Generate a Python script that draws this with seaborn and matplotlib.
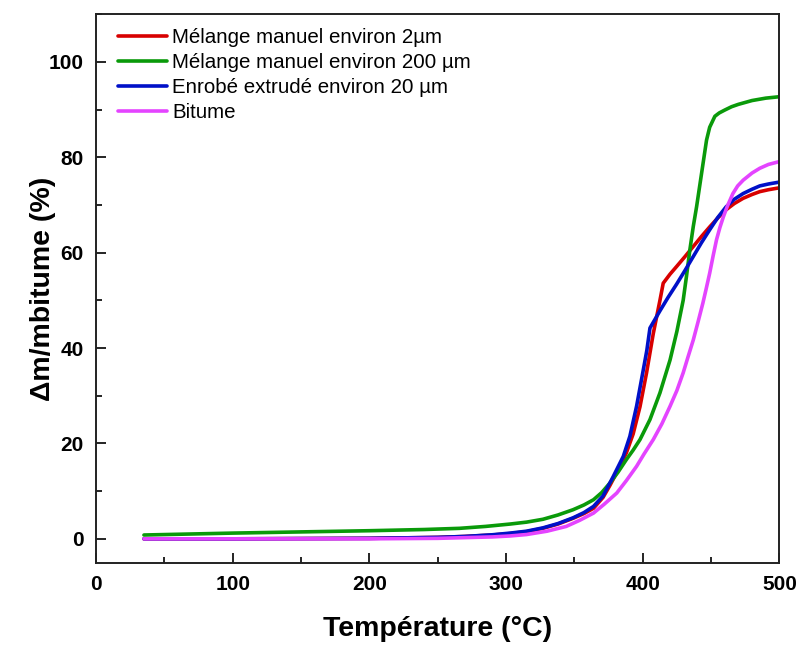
import numpy as np
import pandas as pd
import matplotlib
matplotlib.use("Agg")
import matplotlib.pyplot as plt
import seaborn as sns
from matplotlib.ticker import MultipleLocator

# ── Data ─────────────────────────────────────────────────────────────────────

labels = ["Mélange manuel environ 2µm", "Mélange manuel environ 200 µm",
          "Enrobé extrudé environ 20 µm", "Bitume"]

t_red = [35, 100, 200, 250, 270, 290, 303, 315, 327, 338, 349, 357, 364,
         371, 376, 381, 388, 393, 398, 402.8, 407.7, 412.6, 415, 420, 424.8,
         431, 437, 443, 449, 455, 461, 467, 473.5, 480, 485.7, 492, 500]
v_red = [0, 0, 0.1, 0.3, 0.5, 0.8, 1.1, 1.5, 2.2, 3.1, 4.3, 5.3, 6.4,
         8.7, 11.2, 13.9, 18, 22, 27.7, 34.8, 43, 50, 53.6, 55.5, 57.1,
         59.2, 61.3, 63.4, 65.4, 67.3, 69, 70.3, 71.4, 72.2, 72.8, 73.2, 73.6]

t_green = [35, 100, 150, 200, 240, 266, 285, 303, 315, 327, 338, 349, 357,
           364, 370, 376, 382, 388, 393, 398, 405.3, 412.6, 420, 425, 429.6,
           432, 434.5, 437, 439.4, 443, 446.7, 449, 452.8, 456, 460, 465,
           470, 480, 490, 500]
v_green = [0.8, 1.2, 1.45, 1.7, 1.95, 2.2, 2.6, 3.1, 3.5, 4.1, 5.0, 6.1, 7.1,
           8.2, 9.7, 11.7, 14, 16.6, 18.6, 20.8, 25, 30.6, 37.5, 43.5, 50,
           55, 60.6, 65.5, 69.6, 76.5, 83.6, 86.3, 88.6, 89.3, 89.9, 90.6,
           91.1, 91.9, 92.4, 92.7]

t_blue = [35, 100, 200, 250, 270, 290, 303, 315, 327, 338, 349, 357, 364,
          371, 378.5, 385.8, 390.6, 395.5, 400.4, 403, 405.3, 412.6, 418.5,
          424.8, 431, 437, 443, 449, 455, 461, 467, 473.5, 480, 485.7, 492,
          500]
v_blue = [0, 0, 0.1, 0.3, 0.5, 0.85, 1.2, 1.6, 2.3, 3.2, 4.4, 5.5, 6.8,
          9, 13.1, 17.3, 21.5, 27.8, 35.4, 39.5, 44.2, 47.8, 50.6,
          53.4, 56.3, 59.2, 62.1, 64.8, 67.4, 69.6, 71.2, 72.4, 73.3, 74,
          74.4, 74.8]

t_mag = [35, 100, 200, 250, 290, 303, 315, 330, 344, 354, 364, 372, 381,
         388, 395.5, 401, 407.7, 414, 420, 425, 429.6, 433, 437, 440.5, 444,
         446.5, 449, 451.5, 454, 456.5, 459, 462, 466, 469.5, 473.5, 480,
         485.7, 492, 500]
v_mag = [0, 0, 0, 0.1, 0.4, 0.6, 0.9, 1.6, 2.6, 3.9, 5.4, 7.3, 9.6,
         12.2, 15.2, 17.8, 20.8, 24.1, 27.8, 31.1, 34.8, 38, 41.7, 45.5, 49.4,
         52.5, 55.7, 59.3, 62.7, 65.3, 67.5, 69.8, 72.4, 74, 75.2, 76.7,
         77.7, 78.5, 79.1]

colors = ["#d80000", "#0a9a0a", "#0010c8", "#e444ff"]

df = pd.concat([
    pd.DataFrame({"T": t_red, "dm": v_red, "serie": labels[0]}),
    pd.DataFrame({"T": t_green, "dm": v_green, "serie": labels[1]}),
    pd.DataFrame({"T": t_blue, "dm": v_blue, "serie": labels[2]}),
    pd.DataFrame({"T": t_mag, "dm": v_mag, "serie": labels[3]}),
], ignore_index=True)

# ── Plot ─────────────────────────────────────────────────────────────────────

sns.set_theme(style="ticks")
plt.rcParams["font.family"] = ["Liberation Sans", "DejaVu Sans"]
for key in ["text.color", "axes.labelcolor", "xtick.color", "ytick.color"]:
    plt.rcParams[key] = "black"

fig = plt.figure(figsize=(8.01, 6.46), dpi=100)
ax = fig.add_axes([0.12, 0.129, 0.853, 0.849])

for lab, col in zip(labels, colors):
    sub = df[df["serie"] == lab]
    sns.lineplot(data=sub, x="T", y="dm", color=col, linewidth=2.6,
                 label=lab, sort=False, estimator=None, ax=ax)

ax.set_xlim(0, 500)
ax.set_ylim(-5, 110)
ax.xaxis.set_major_locator(MultipleLocator(100))
ax.xaxis.set_minor_locator(MultipleLocator(50))
ax.yaxis.set_major_locator(MultipleLocator(20))
ax.yaxis.set_minor_locator(MultipleLocator(10))
ax.tick_params(which="major", direction="in", length=7, width=1.2,
               labelsize=15, pad=9)
ax.tick_params(which="minor", direction="in", length=4, width=1.2)
for lbl in ax.get_xticklabels() + ax.get_yticklabels():
    lbl.set_fontweight("bold")
for sp in ax.spines.values():
    sp.set_linewidth(1.4)
    sp.set_color("#222222")

ax.set_xlabel("Température (°C)", fontsize=20.5, fontweight="bold", labelpad=16)
ax.set_ylabel("Δm/mbitume (%)", fontsize=20.5, fontweight="bold")
ax.yaxis.set_label_coords(-0.058, 0.5)

ax.legend(loc="upper left", bbox_to_anchor=(0.02, 0.99), frameon=False,
          fontsize=14.8, handlelength=2.4, handletextpad=0.25,
          labelspacing=0.3, borderaxespad=0)

fig.savefig("out.png", dpi=100)
